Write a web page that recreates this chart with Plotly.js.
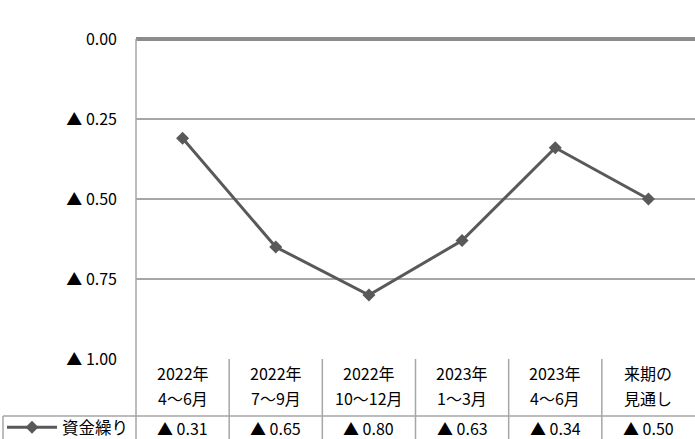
<!DOCTYPE html>
<html>
<head>
<meta charset="utf-8">
<script src="https://cdn.plot.ly/plotly-3.0.1.min.js"></script>
<style>html,body{margin:0;padding:0;background:#fff;}#chart{width:695px;height:439px;}</style>
</head>
<body>
<div id="chart"></div>
<script>
// ---- data ----
const chartTitle = "【全産業】";
const seriesName = "資金繰り";
const categories = ["2022年<br>4〜6月", "2022年<br>7〜9月", "2022年<br>10〜12月", "2023年<br>1〜3月", "2023年<br>4〜6月", "来期の<br>見通し"];
const values = [0.31, 0.65, 0.80, 0.63, 0.34, 0.50]; // ▲ = negative
const yTickValues = [0, 0.25, 0.50, 0.75, 1.00];

// ---- helpers ----
const fmt = v => (v === 0 ? "0.00" : "▲ " + v.toFixed(2));
const W = 695, H = 439;
const M = {l: 136, r: 0, t: 39, b: 80, autoexpand: false};
const PW = W - M.l - M.r, PH = H - M.t - M.b;
const px2x = x => (x - M.l) / PW;          // pixel -> paper x
const px2y = y => (H - M.b - y) / PH;      // pixel -> paper y

const FONT = "Noto Sans CJK JP, Noto Sans, sans-serif";
const grid = "#a6a6a6";
const idx = categories.map((_, i) => i);

const trace = {
  x: idx,
  y: values.map(v => -v),
  type: "scatter",
  mode: "lines+markers",
  name: seriesName,
  line: {color: "#595959", width: 3},
  marker: {symbol: "diamond", size: 10, color: "#595959"},
  hoverinfo: "skip"
};

const shapes = [];
const annotations = [];
const rowMid = 416, rowBot = 439;
const ln = {color: grid, width: 1.5};
shapes.push({type: "line", xref: "paper", yref: "paper", x0: px2x(3), x1: 1, y0: px2y(rowMid), y1: px2y(rowMid), line: ln});
shapes.push({type: "line", xref: "paper", yref: "paper", x0: px2x(3), x1: px2x(3), y0: px2y(rowMid), y1: px2y(rowBot + 2), line: ln});
shapes.push({type: "line", xref: "paper", yref: "paper", x0: 0, x1: 0, y0: 1, y1: px2y(rowBot + 2), line: ln});
for (let i = 0; i < categories.length - 1; i++) {
  shapes.push({type: "line", xref: "x", yref: "paper", x0: i + 0.5, x1: i + 0.5, y0: 0, y1: px2y(rowBot + 2), line: ln});
}
const cellFont = {family: FONT, size: 16, color: "#000"};
categories.forEach((c, i) => {
  const parts = c.split("<br>");
  [373, 398].forEach((yy, k) => {
    annotations.push({xref: "x", yref: "paper", x: i, y: px2y(yy), text: parts[k], showarrow: false,
      xanchor: "center", yanchor: "middle", font: cellFont});
  });
  annotations.push({xref: "x", yref: "paper", x: i, y: px2y(427.5), text: fmt(values[i]), showarrow: false,
    xanchor: "center", yanchor: "middle", font: cellFont});
});
annotations.push({xref: "paper", yref: "paper", x: px2x(62), y: px2y(6), text: chartTitle, showarrow: false,
  xanchor: "left", yanchor: "bottom", font: {family: FONT, size: 20, color: "#000"}});

const layout = {
  width: W, height: H,
  margin: M,
  paper_bgcolor: "#fff", plot_bgcolor: "#fff",
  showlegend: true,
  legend: {x: px2x(2), xanchor: "left", y: px2y(427.5), yanchor: "middle", orientation: "h",
    font: {family: FONT, size: 16.5, color: "#000"}, bgcolor: "rgba(0,0,0,0)", itemwidth: 50, tracegroupgap: 0},
  xaxis: {range: [-0.5, categories.length - 0.5], showticklabels: false, showgrid: false, zeroline: false,
    showline: false, fixedrange: true},
  yaxis: {range: [-1, 0], tickvals: yTickValues.map(v => -v), ticktext: yTickValues.map(fmt),
    showgrid: true, gridcolor: grid, gridwidth: 1.5, zeroline: true, zerolinecolor: "#8c8c8c", zerolinewidth: 4,
    showline: false, ticks: "", ticklabelstandoff: 18,
    tickfont: {family: FONT, size: 16, color: "#000"}, fixedrange: true},
  shapes: shapes,
  annotations: annotations
};

Plotly.newPlot("chart", [trace], layout, {displayModeBar: false, staticPlot: true});
</script>
</body>
</html>
